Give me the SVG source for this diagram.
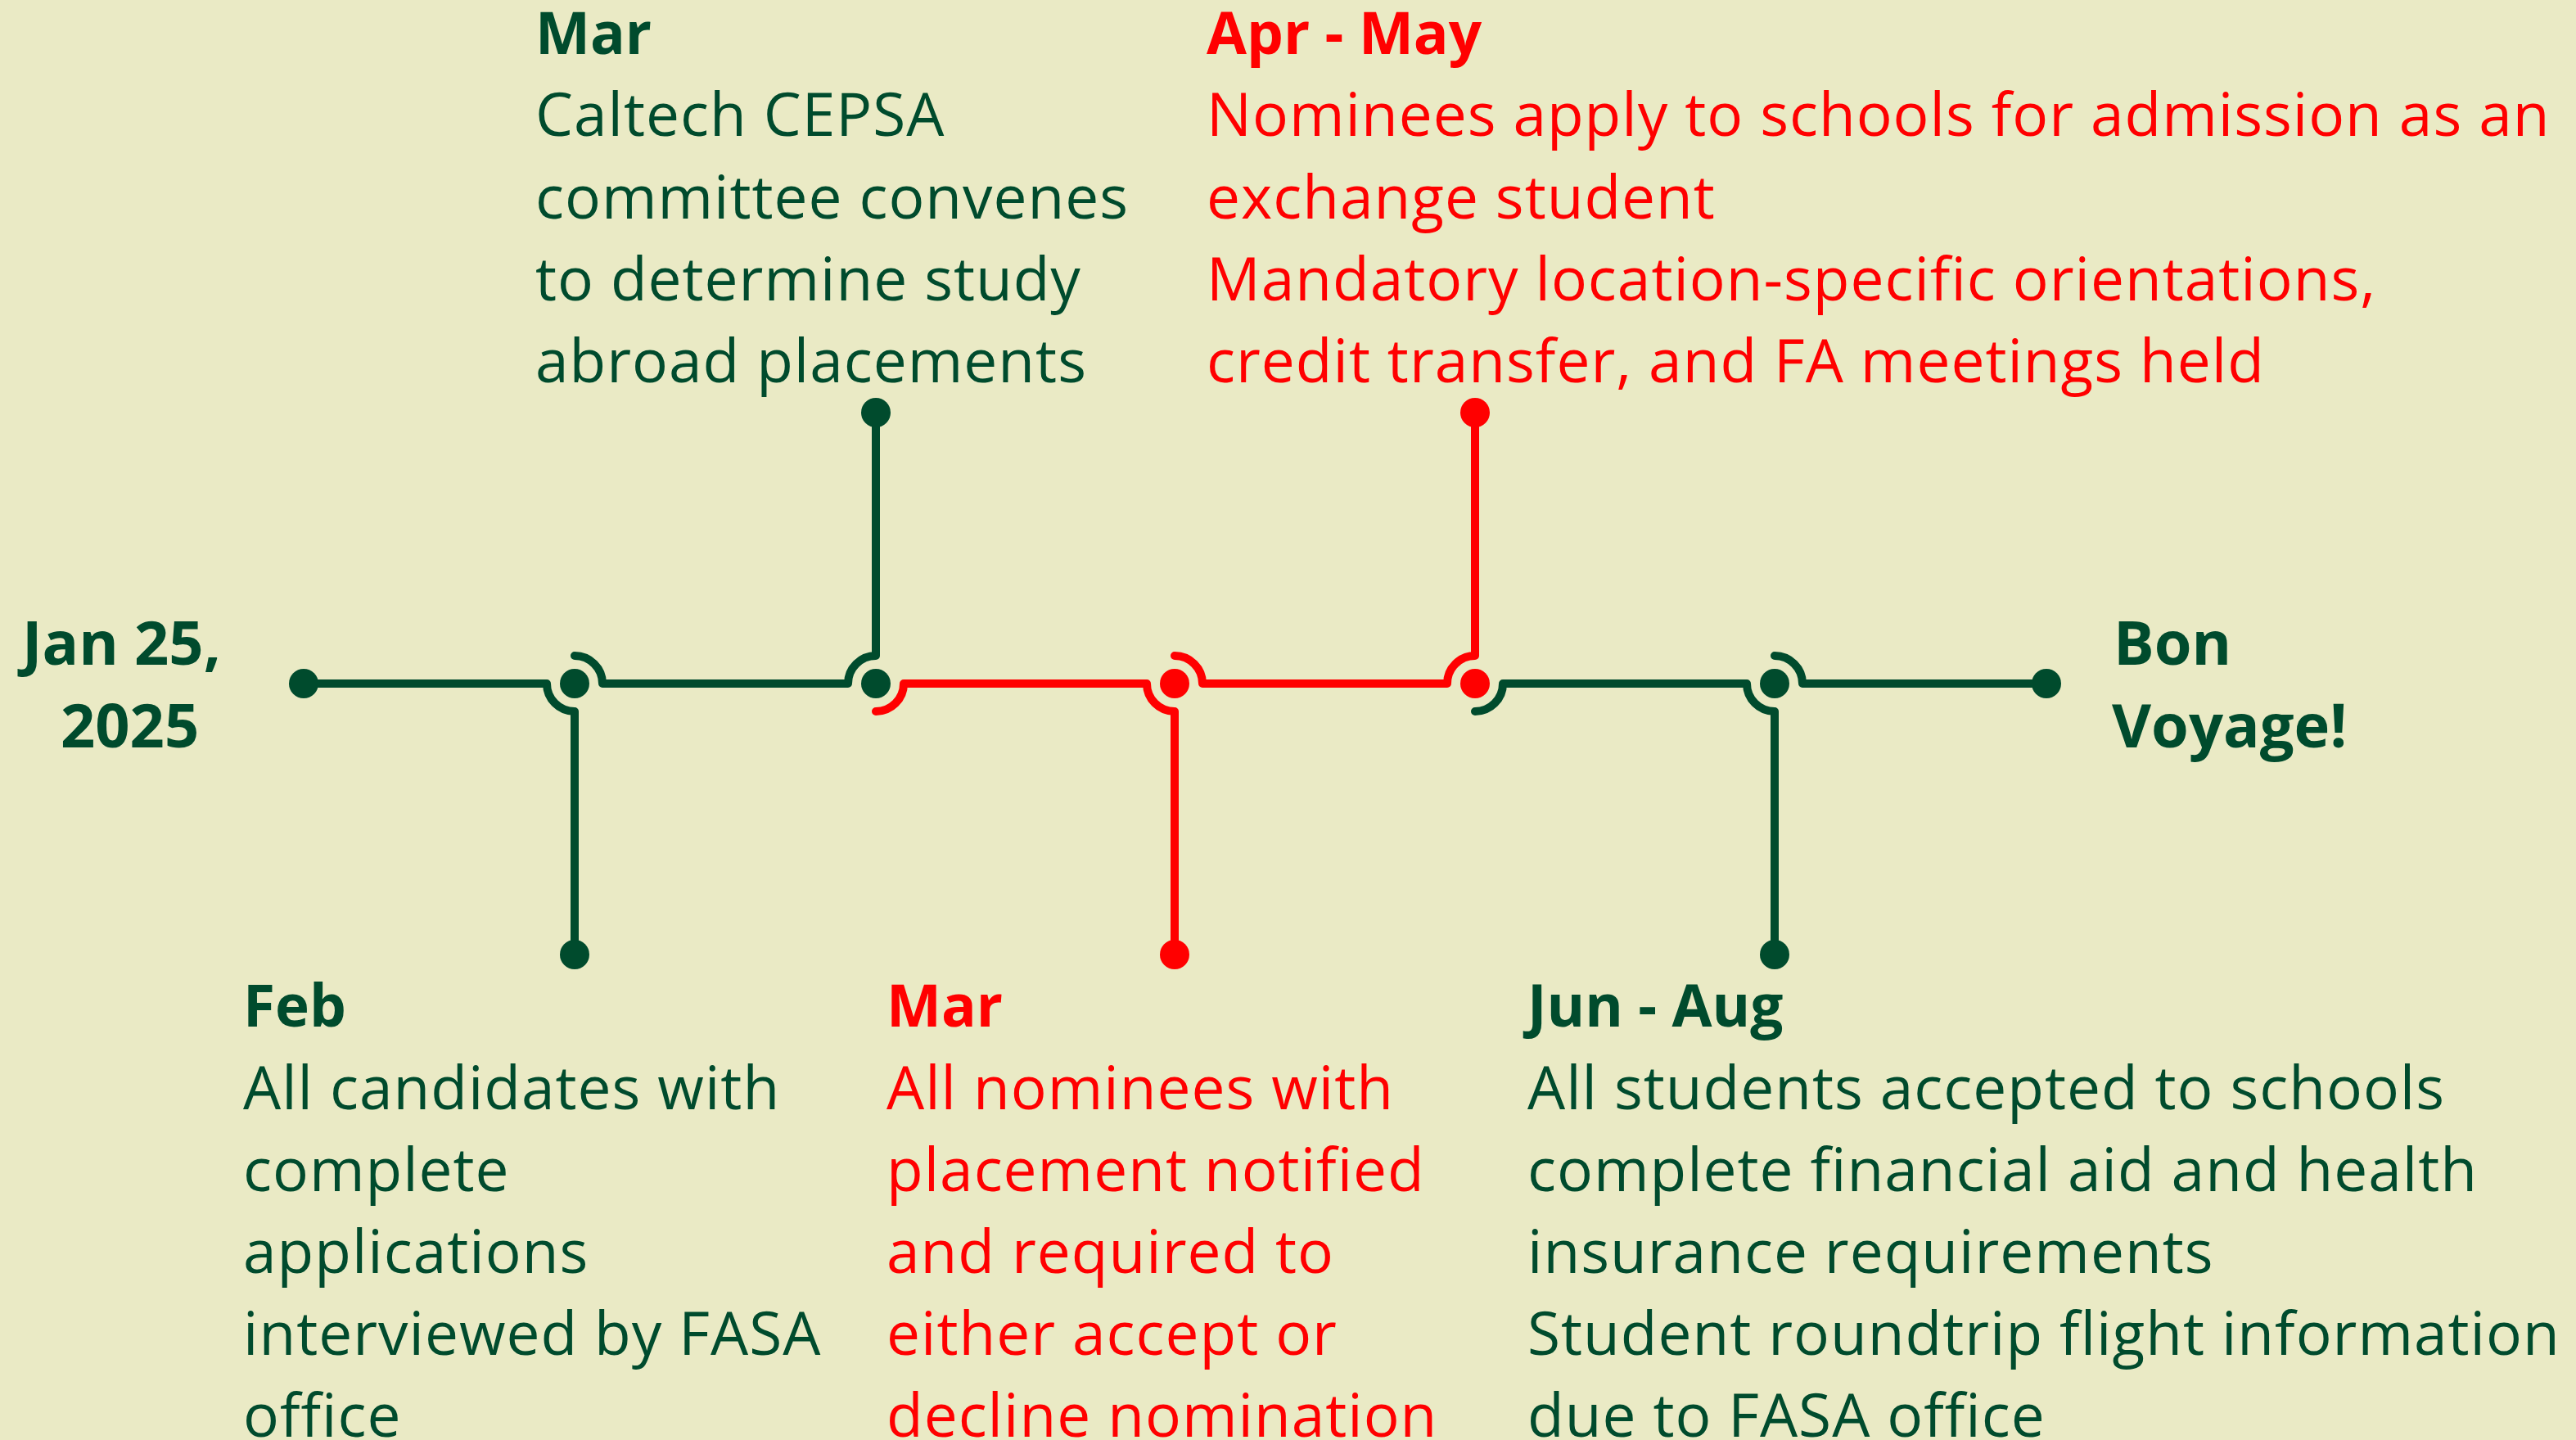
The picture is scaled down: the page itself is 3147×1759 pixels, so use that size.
<svg xmlns="http://www.w3.org/2000/svg" width="3147" height="1759" viewBox="0 0 3147 1759">
<style>
.g{fill:#004b2d}
.r{fill:#ff0000}
.ln{fill:none;stroke-width:10;stroke-linecap:round;stroke-linejoin:round}
.lg{stroke:#004b2d}
.lr{stroke:#ff0000}
.t{font-family:"Open Sans","Liberation Sans",sans-serif;font-size:73px;letter-spacing:1px}
.b{font-weight:bold;font-size:71px;letter-spacing:0}
.big{font-family:"Open Sans","DejaVu Sans",sans-serif;font-size:74px;font-weight:bold}
</style>
<rect width="3147" height="1759" fill="#eaeac5"/>
<g id="connectors">
<path class="ln lg" d="M371,835 H668 A34,34 0 0 0 702,869 V1166"/>
<path class="ln lg" d="M702,801 A34,34 0 0 1 736,835 H1036 A34,34 0 0 1 1070,801 V504"/>
<path class="ln lr" d="M1070,869 A34,34 0 0 0 1104,835 H1401 A34,34 0 0 0 1435,869 V1166"/>
<path class="ln lr" d="M1435,801 A34,34 0 0 1 1469,835 H1768 A34,34 0 0 1 1802,801 V504"/>
<path class="ln lg" d="M1802,869 A34,34 0 0 0 1836,835 H2134 A34,34 0 0 0 2168,869 V1166"/>
<path class="ln lg" d="M2168,801 A34,34 0 0 1 2202,835 H2500"/>
</g>
<g id="start">
<circle class="g" cx="371" cy="835" r="18"/>
<text class="big g" x="27" y="812">Jan 25,</text>
<text class="big g" x="74" y="913">2025</text>
</g>
<g id="j1"><circle class="g" cx="702" cy="835" r="18"/></g>
<g id="j2"><circle class="g" cx="1070" cy="835" r="18"/></g>
<g id="j3"><circle class="r" cx="1435" cy="835" r="18"/></g>
<g id="j4"><circle class="r" cx="1802" cy="835" r="18"/></g>
<g id="j5"><circle class="g" cx="2168" cy="835" r="18"/></g>
<g id="end">
<circle class="g" cx="2500" cy="835" r="18"/>
<text class="big g" x="2582" y="812">Bon</text>
<text class="big g" x="2580" y="913">Voyage!</text>
</g>
<g id="feb">
<circle class="g" cx="702" cy="1166" r="18"/>
<text class="t g"><tspan class="b" x="297" y="1254">Feb</tspan><tspan x="297" y="1355">All candidates with</tspan><tspan x="297" y="1455">complete</tspan><tspan x="297" y="1555">applications</tspan><tspan x="297" y="1655">interviewed by FASA</tspan><tspan x="297" y="1755">office</tspan></text>
</g>
<g id="mar-top">
<circle class="g" cx="1070" cy="504" r="18"/>
<text class="t g"><tspan class="b" x="654" y="66">Mar</tspan><tspan x="654" y="166">Caltech CEPSA</tspan><tspan x="654" y="267">committee convenes</tspan><tspan x="654" y="367">to determine study</tspan><tspan x="654" y="467">abroad placements</tspan></text>
</g>
<g id="mar-bottom">
<circle class="r" cx="1435" cy="1166" r="18"/>
<text class="t r"><tspan class="b" x="1083" y="1254">Mar</tspan><tspan x="1083" y="1355">All nominees with</tspan><tspan x="1083" y="1455">placement notified</tspan><tspan x="1083" y="1555">and required to</tspan><tspan x="1083" y="1655">either accept or</tspan><tspan x="1083" y="1755">decline nomination</tspan></text>
</g>
<g id="apr-may">
<circle class="r" cx="1802" cy="504" r="18"/>
<text class="t r"><tspan class="b" x="1474" y="66">Apr - May</tspan><tspan x="1474" y="166">Nominees apply to schools for admission as an</tspan><tspan x="1474" y="267">exchange student</tspan><tspan x="1474" y="367">Mandatory location-specific orientations,</tspan><tspan x="1474" y="467">credit transfer, and FA meetings held</tspan></text>
</g>
<g id="jun-aug">
<circle class="g" cx="2168" cy="1166" r="18"/>
<text class="t g"><tspan class="b" x="1866" y="1254">Jun - Aug</tspan><tspan x="1866" y="1355">All students accepted to schools</tspan><tspan x="1866" y="1455">complete financial aid and health</tspan><tspan x="1866" y="1555">insurance requirements</tspan><tspan x="1866" y="1655">Student roundtrip flight information</tspan><tspan x="1866" y="1755">due to FASA office</tspan></text>
</g>
</svg>
